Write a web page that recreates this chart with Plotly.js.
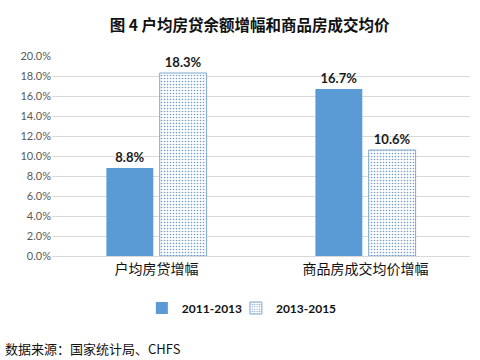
<!DOCTYPE html>
<html>
<head>
<meta charset="utf-8">
<script src="https://cdn.plot.ly/plotly-3.0.1.min.js"></script>
<style>html,body{margin:0;padding:0;background:#fff;}#chart{width:480px;height:360px;}</style>
</head>
<body>
<div id="chart"></div>
<script>
const categories = ["户均房贷增幅", "商品房成交均价增幅"];
const series2011 = [8.8, 16.7];
const series2013 = [18.3, 10.6];
const seriesNames = ["2011-2013", "2013-2015"];
const yTicks = [0, 2, 4, 6, 8, 10, 12, 14, 16, 18, 20];

const FONT = "Lato, 'Noto Sans CJK SC', sans-serif";
const BLUE = "#5b9bd5";

const traces = [
  {
    type: "bar", name: seriesNames[0], x: categories, y: series2011,
    legend: "legend",
    marker: {color: BLUE},
    text: series2011.map(v => v.toFixed(1) + "%"),
    textposition: "outside", cliponaxis: false,
    textfont: {family: FONT, size: 13, color: "#1a1a1a", weight: "bold"}
  },
  {
    type: "bar", name: seriesNames[1], x: categories, y: series2013,
    legend: "legend2",
    marker: {color: "#ffffff", line: {color: "#7fa9cf", width: 1},
      pattern: {shape: ".", fgcolor: "#6f9cc8", bgcolor: "#ffffff", size: 3, solidity: 0.22}},
    text: series2013.map(v => v.toFixed(1) + "%"),
    textposition: "outside", cliponaxis: false,
    textfont: {family: FONT, size: 13, color: "#1a1a1a", weight: "bold"}
  }
];

const legendFont = {family: FONT, size: 12, color: "#111", weight: "bold"};
const layout = {
  width: 480, height: 360,
  margin: {l: 52, r: 10, t: 56, b: 104},
  paper_bgcolor: "#ffffff", plot_bgcolor: "#ffffff",
  font: {family: FONT, color: "#595959"},
  title: {text: "<b>图 4 户均房贷余额增幅和商品房成交均价</b>", x: 0.52, xanchor: "center",
    y: 0.93, yanchor: "middle", font: {family: "'Noto Sans CJK SC', sans-serif", size: 15.5, color: "#111"}},
  barmode: "group", bargap: 0.49, bargroupgap: 0.12,
  xaxis: {tickfont: {family: "'Noto Sans CJK SC', sans-serif", size: 14, color: "#111"},
    showline: true, linecolor: "#d9d9d9", linewidth: 1, ticks: "", fixedrange: true},
  yaxis: {range: [0, 20], tickvals: yTicks, ticktext: yTicks.map(v => v.toFixed(1) + "%"),
    tickfont: {family: FONT, size: 11, color: "#595959"},
    showgrid: true, gridcolor: "#d9d9d9", gridwidth: 1, zeroline: false, showline: false, ticks: "", ticklen: 8},
  showlegend: true,
  legend: {orientation: "h", x: 0.215, xanchor: "left", y: -0.26, yanchor: "middle",
    font: legendFont, itemwidth: 30, bgcolor: "rgba(0,0,0,0)"},
  legend2: {orientation: "h", x: 0.44, xanchor: "left", y: -0.26, yanchor: "middle",
    font: legendFont, itemwidth: 30, bgcolor: "rgba(0,0,0,0)"},
  annotations: [{
    text: "数据来源：国家统计局、CHFS", xref: "paper", yref: "paper",
    x: -0.117, xanchor: "left", y: -0.46, yanchor: "middle", showarrow: false,
    font: {family: "'Noto Sans CJK SC', sans-serif", size: 13, color: "#111"}
  }]
};

Plotly.newPlot("chart", traces, layout, {staticPlot: true, displayModeBar: false});
</script>
</body>
</html>
